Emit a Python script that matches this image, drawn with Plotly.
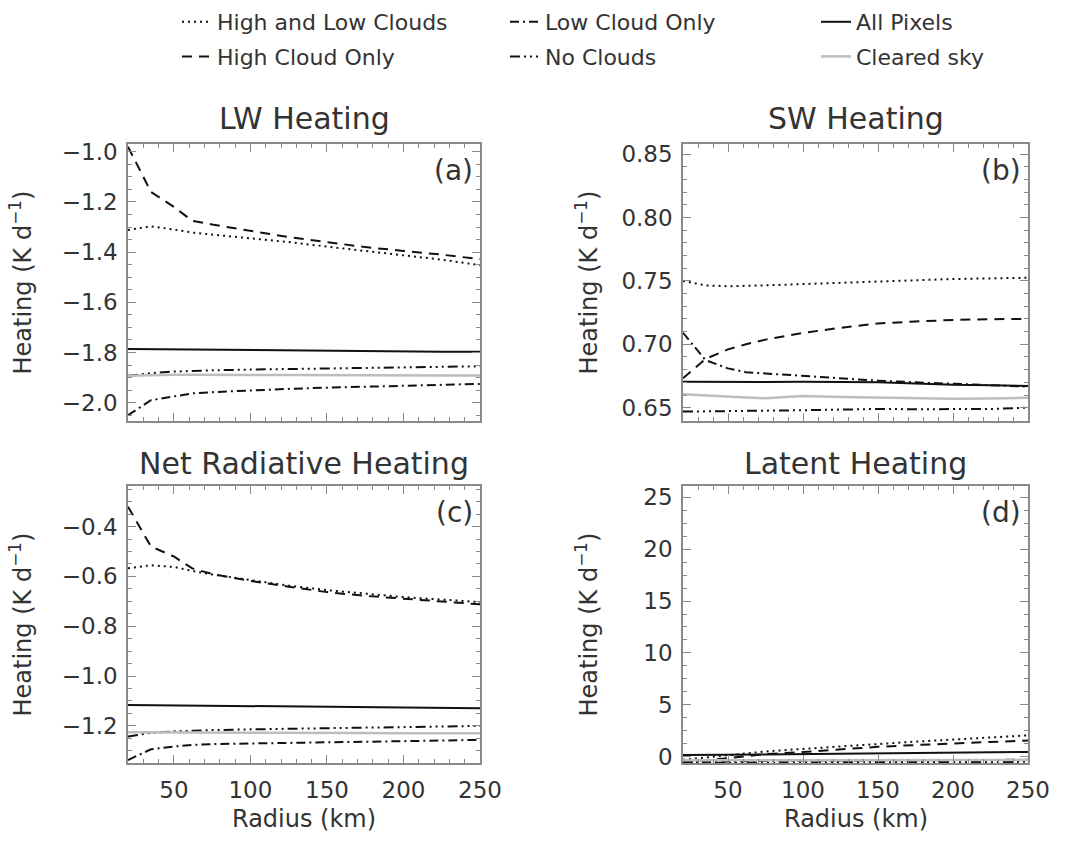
import plotly.graph_objects as go

# ---------------- data ----------------
radius = [20, 35, 50, 62, 75, 100, 125, 150, 175, 200, 225, 250]

series_names = ["High and Low Clouds", "High Cloud Only", "Low Cloud Only",
                "No Clouds", "All Pixels", "Cleared sky"]

# (a) LW heating
lw_high_low = [-1.312, -1.297, -1.31, -1.322, -1.33, -1.345, -1.36, -1.378, -1.395, -1.412, -1.43, -1.452]
lw_high = [-0.98, -1.16, -1.22, -1.275, -1.29, -1.315, -1.34, -1.36, -1.38, -1.395, -1.41, -1.428]
lw_low = [-2.05, -1.99, -1.975, -1.963, -1.958, -1.95, -1.945, -1.94, -1.937, -1.933, -1.929, -1.925]
lw_none = [-1.893, -1.882, -1.876, -1.873, -1.871, -1.868, -1.866, -1.864, -1.862, -1.86, -1.857, -1.855]
lw_all = [-1.786, -1.787, -1.788, -1.789, -1.79, -1.791, -1.793, -1.794, -1.795, -1.796, -1.797, -1.797]
lw_clear = [-1.893, -1.89, -1.889, -1.889, -1.89, -1.89, -1.89, -1.891, -1.891, -1.891, -1.892, -1.892]

# (b) SW heating
sw_high_low = [0.750, 0.7465, 0.7458, 0.746, 0.7465, 0.7475, 0.7485, 0.7497, 0.7507, 0.7515, 0.752, 0.7525]
sw_high = [0.6732, 0.6885, 0.696, 0.700, 0.7037, 0.709, 0.713, 0.7165, 0.718, 0.7192, 0.7198, 0.720]
sw_low = [0.7091, 0.6875, 0.681, 0.678, 0.677, 0.675, 0.673, 0.6713, 0.670, 0.669, 0.668, 0.6666]
sw_none = [0.6469, 0.647, 0.6472, 0.6475, 0.6477, 0.648, 0.6485, 0.649, 0.6488, 0.6487, 0.649, 0.650]
sw_all = [0.6705, 0.6703, 0.670, 0.670, 0.6702, 0.6705, 0.6703, 0.670, 0.669, 0.668, 0.6677, 0.6672]
sw_clear = [0.6606, 0.6595, 0.6585, 0.658, 0.6575, 0.6592, 0.6585, 0.658, 0.6578, 0.657, 0.6572, 0.6578]

# (c) Net radiative heating
net_high_low = [-0.567, -0.555, -0.562, -0.578, -0.592, -0.615, -0.637, -0.655, -0.67, -0.683, -0.693, -0.703]
net_high = [-0.32, -0.48, -0.52, -0.568, -0.590, -0.618, -0.641, -0.663, -0.678, -0.690, -0.701, -0.712]
net_low = [-1.337, -1.294, -1.283, -1.276, -1.273, -1.27, -1.268, -1.266, -1.264, -1.262, -1.259, -1.256]
net_none = [-1.243, -1.228, -1.222, -1.219, -1.217, -1.214, -1.211, -1.209, -1.207, -1.205, -1.203, -1.200]
net_all = [-1.116, -1.117, -1.118, -1.119, -1.12, -1.121, -1.122, -1.124, -1.127, -1.128, -1.129, -1.129]
net_clear = [-1.226, -1.226, -1.227, -1.227, -1.227, -1.228, -1.228, -1.229, -1.229, -1.23, -1.23, -1.23]

# (d) Latent heating
lh_high_low = [-0.3, -0.1, 0.1, 0.3, 0.5, 0.75, 1.0, 1.25, 1.45, 1.65, 1.85, 2.05]
lh_high = [-0.5, -0.35, -0.15, 0.05, 0.25, 0.45, 0.7, 0.95, 1.12, 1.3, 1.42, 1.55]
lh_low = [-0.55, -0.5, -0.45, -0.42, -0.4, -0.38, -0.36, -0.35, -0.34, -0.33, -0.32, -0.3]
lh_none = [-0.6, -0.58, -0.56, -0.55, -0.54, -0.53, -0.52, -0.52, -0.51, -0.5, -0.5, -0.5]
lh_all = [0.15, 0.17, 0.2, 0.22, 0.25, 0.28, 0.31, 0.34, 0.37, 0.4, 0.42, 0.45]
lh_clear = [-0.35, -0.35, -0.35, -0.34, -0.34, -0.34, -0.34, -0.33, -0.33, -0.33, -0.33, -0.33]

panel_titles = ["LW Heating", "SW Heating", "Net Radiative Heating", "Latent Heating"]
panel_labels = ["(a)", "(b)", "(c)", "(d)"]
y_title = "Heating (K d<sup>\u22121</sup>)"
x_title = "Radius (km)"

panels = [
    [lw_high_low, lw_high, lw_low, lw_none, lw_all, lw_clear],
    [sw_high_low, sw_high, sw_low, sw_none, sw_all, sw_clear],
    [net_high_low, net_high, net_low, net_none, net_all, net_clear],
    [lh_high_low, lh_high, lh_low, lh_none, lh_all, lh_clear],
]

# ---------------- styles ----------------
FONT = "DejaVu Sans"
TXT = "#333333"
AX = "#8a8a8a"
styles = [
    dict(color="#111111", width=2, dash="2px,4px"),
    dict(color="#111111", width=2, dash="10px,7px"),
    dict(color="#111111", width=2, dash="9px,4px,2px,4px"),
    dict(color="#111111", width=2, dash="10px,4px,2px,4px,2px,4px,2px,4px"),
    dict(color="#111111", width=2),
    dict(color="#bdbdbd", width=2.5),
]
legend_of = ["legend", "legend", "legend2", "legend2", "legend3", "legend3"]

W, H = 1072, 842
xdom = [[128 / W, 480 / W], [683 / W, 1028 / W]]
ydom = [[1 - 421 / H, 1 - 144 / H], [1 - 763 / H, 1 - 486 / H]]
yranges = [[-2.073, -0.969], [0.6395, 0.858], [-1.349, -0.237], [-0.61, 26.09]]
ytickvals = [
    [-2.0, -1.8, -1.6, -1.4, -1.2, -1.0],
    [0.65, 0.70, 0.75, 0.80, 0.85],
    [-1.2, -1.0, -0.8, -0.6, -0.4],
    [0, 5, 10, 15, 20, 25],
]
ytickfmt = [".1f", ".2f", ".1f", "d"]
yminor = [0.05, 0.01, 0.05, 1.25]
title_px = [118, 463]
ytitle_px = [20, 586]

fig = go.Figure()
layout = dict(
    width=W, height=H,
    margin=dict(l=0, r=0, t=0, b=0, autoexpand=False),
    paper_bgcolor="white", plot_bgcolor="white",
    font=dict(family=FONT, color=TXT, size=22),
    annotations=[],
)

for p in range(4):
    col = p % 2
    row = p // 2
    sfx = "" if p == 0 else str(p + 1)
    xa = "x" + sfx
    ya = "y" + sfx
    for s in range(6):
        fig.add_trace(go.Scatter(
            x=radius, y=panels[p][s], mode="lines", name=series_names[s],
            line=styles[s], xaxis=xa, yaxis=ya,
            showlegend=(p == 0), legend=legend_of[s], legendgroup=series_names[s],
            hoverinfo="skip",
        ))
    common = dict(
        showline=True, linecolor=AX, linewidth=1.5, mirror="ticks",
        ticks="inside", ticklen=8, tickwidth=1, tickcolor=AX,
        showgrid=False, zeroline=False,
        tickfont=dict(family=FONT, color=TXT, size=23),
    )
    layout["xaxis" + sfx] = dict(
        common, domain=xdom[col], anchor=ya, range=[20, 250],
        tick0=0, dtick=50, showticklabels=(row == 1), ticklabelstandoff=6,
        minor=dict(ticks="inside", ticklen=4, tickcolor=AX, dtick=10, tick0=0, showgrid=False),
    )
    layout["yaxis" + sfx] = dict(
        common, domain=ydom[row], anchor=xa, range=yranges[p],
        tickvals=ytickvals[p], tickformat=ytickfmt[p], ticklabelstandoff=4,
        minor=dict(ticks="inside", ticklen=4, tickcolor=AX, dtick=yminor[p], tick0=0, showgrid=False),
    )
    cx = (xdom[col][0] + xdom[col][1]) / 2
    # panel title
    layout["annotations"].append(dict(
        text=panel_titles[p], xref="paper", yref="paper", x=cx,
        y=1 - title_px[row] / H, xanchor="center", yanchor="middle",
        showarrow=False, font=dict(family=FONT, color=TXT, size=30)))
    # panel label
    layout["annotations"].append(dict(
        text=panel_labels[p], xref=xa + " domain", yref=ya + " domain", x=0.985, y=0.905,
        xanchor="right", yanchor="middle", showarrow=False,
        font=dict(family=FONT, color=TXT, size=28)))
    # y title
    layout["annotations"].append(dict(
        text=y_title, xref="paper", yref="paper", x=ytitle_px[col] / W,
        y=(ydom[row][0] + ydom[row][1]) / 2, textangle=-90,
        xanchor="center", yanchor="middle", showarrow=False,
        font=dict(family=FONT, color=TXT, size=24)))
    if row == 1:
        layout["annotations"].append(dict(
            text=x_title, xref="paper", yref="paper", x=cx, y=1 - 819 / H,
            xanchor="center", yanchor="middle", showarrow=False,
            font=dict(family=FONT, color=TXT, size=24)))

leg_common = dict(orientation="v", xanchor="left", yanchor="top", y=1 - 1 / H,
                  bgcolor="rgba(0,0,0,0)", borderwidth=0, traceorder="grouped",
                  tracegroupgap=3, font=dict(family=FONT, color=TXT, size=22))
layout["legend"] = dict(leg_common, x=177 / W)
layout["legend2"] = dict(leg_common, x=505 / W)
layout["legend3"] = dict(leg_common, x=816 / W)

fig.update_layout(**layout)
fig.write_html("out.html", config={"displayModeBar": False},
               post_script="document.body.style.margin='0';document.body.style.overflow='hidden';")
